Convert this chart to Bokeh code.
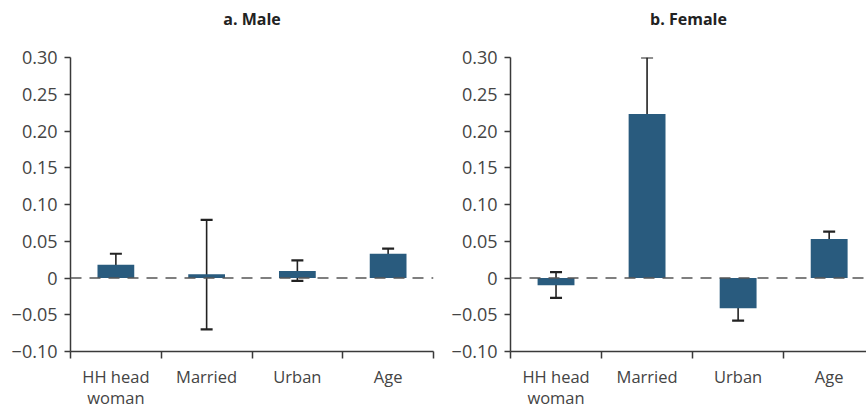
from bokeh.plotting import figure
from bokeh.layouts import row
from bokeh.models import FixedTicker, Span, Whisker, ColumnDataSource, Range1d, TeeHead
from bokeh.embed import file_html
from bokeh.resources import INLINE

categories = ["HH head\nwoman", "Married", "Urban", "Age"]
male_coef = [0.018, 0.005, 0.0095, 0.033]
male_low = [0.004, -0.070, -0.004, 0.025]
male_high = [0.033, 0.079, 0.024, 0.040]
female_coef = [-0.010, 0.223, -0.041, 0.053]
female_low = [-0.027, 0.146, -0.058, 0.044]
female_high = [0.008, 0.300, -0.023, 0.063]
y_ticks = [-0.10, -0.05, 0.0, 0.05, 0.10, 0.15, 0.20, 0.25, 0.30]
y_tick_labels = ["\u22120.10", "\u22120.05", "0", "0.05", "0.10", "0.15", "0.20", "0.25", "0.30"]
panel_titles = ["a. Male", "b. Female"]

BAR = "#295b7e"
INK = "#222222"
AX = "#3a3a3a"
FONT = "Open Sans"
FRAME_H = 294


def make_panel(title, coef, low, high, frame_w, border_left, border_right, x_end):
    n = len(categories)
    centers = [i + 0.5 for i in range(n)]
    bounds = [float(i) for i in range(n + 1)]
    src = ColumnDataSource(dict(x=centers, top=coef, low=low, high=high))
    p = figure(frame_width=frame_w, frame_height=FRAME_H, output_backend="svg", toolbar_location=None,
               x_range=Range1d(0, x_end), y_range=Range1d(-0.10, 0.30),
               min_border_left=border_left, min_border_right=border_right,
               min_border_top=57, min_border_bottom=2)
    p.outline_line_color = None
    p.grid.visible = False
    p.background_fill_color = "white"
    p.border_fill_color = "white"

    # trailing empty line lifts the title away from the plot frame
    p.title.text = title + "\n"
    p.title.align = "center"
    p.title.vertical_align = "bottom"
    p.title.standoff = 0
    p.title.text_font = FONT
    p.title.text_font_style = "bold"
    p.title.text_font_size = "16px"
    p.title.text_line_height = 1.25
    p.title.text_color = "#222222"

    p.vbar(x="x", top="top", bottom=0, width=0.405, source=src,
           fill_color=BAR, line_color=None)
    p.add_layout(Span(location=0, dimension="width", line_color="#555555",
                      line_width=1.5, line_dash="11 8"))
    w = Whisker(base="x", lower="low", upper="high", source=src,
                line_color=INK, line_width=1.6,
                lower_head=TeeHead(size=12, line_color=INK, line_width=2.2),
                upper_head=TeeHead(size=12, line_color=INK, line_width=2.2))
    p.add_layout(w)

    xa = p.xaxis[0]
    xa.ticker = FixedTicker(ticks=centers, minor_ticks=bounds)
    xa.major_label_overrides = {c: lab for c, lab in zip(centers, categories)}
    xa.major_tick_in = 0
    xa.major_tick_out = 0
    xa.minor_tick_in = 0
    xa.minor_tick_out = 7
    xa.minor_tick_line_color = AX
    xa.minor_tick_line_width = 1.5
    xa.axis_line_color = AX
    xa.axis_line_width = 1.5
    xa.major_label_standoff = 6
    xa.major_label_text_font = FONT
    xa.major_label_text_font_size = "16.5px"
    xa.major_label_text_line_height = 0.95
    xa.major_label_text_color = "#444444"

    ya = p.yaxis[0]
    ya.ticker = FixedTicker(ticks=y_ticks)
    ya.major_label_overrides = {t: lab for t, lab in zip(y_ticks, y_tick_labels)}
    ya.major_tick_in = 0
    ya.major_tick_out = 6
    ya.minor_tick_in = 0
    ya.minor_tick_out = 0
    ya.major_tick_line_color = AX
    ya.major_tick_line_width = 1.5
    ya.axis_line_color = AX
    ya.axis_line_width = 1.5
    ya.major_label_standoff = 7
    ya.major_label_text_font = FONT
    ya.major_label_text_font_size = "18px"
    ya.major_label_text_color = "#444444"
    return p


left = make_panel(panel_titles[0], male_coef, male_low, male_high, 363, 70, 7, 4.0)
right = make_panel(panel_titles[1], female_coef, female_low, female_high, 356, 70, 0, 3.91)
layout = row(left, right)

open("out.html", "w").write(file_html(layout, INLINE))
